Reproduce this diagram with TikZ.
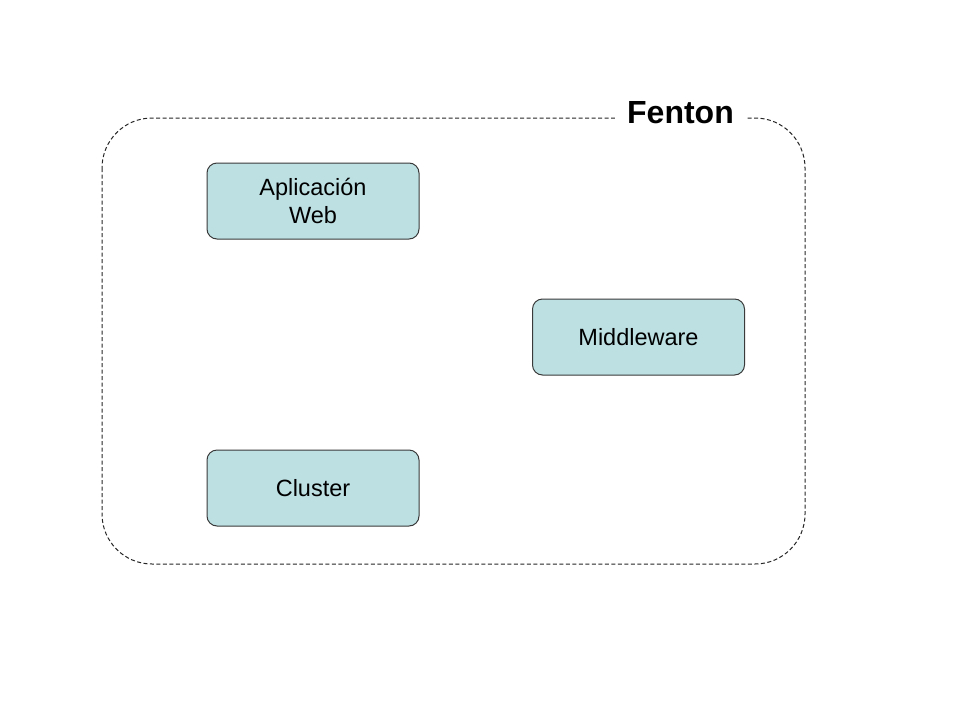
\documentclass[tikz,border=0pt]{standalone}
\usepackage{fontspec}
\setmainfont{Liberation Sans}
\usepackage{xcolor}
\usepackage{tikz}
\definecolor{boxfill}{HTML}{BDE0E3}
\definecolor{boxline}{HTML}{3A3A3A}
\tikzset{
  block/.style={
    draw = boxline,
    line width=1pt,
    fill = boxfill,
    rounded corners=10pt,
    minimum width=212pt,
    minimum height=76pt,
    align=center,
    font=\fontsize{23.5}{28}\selectfont
  },
  frame/.style={
   draw = black!85,
   line width=1pt,
   dash pattern=on 4pt off 2.5pt,
   rounded corners=50pt,
  },
  title/.style={
    fill = white,
    inner xsep = 12pt,
    inner ysep = 6pt,
    font=\bfseries\fontsize{32}{36}\selectfont
  }
}

\begin{document}
\begin{tikzpicture}[x=1pt,y=-1pt]
        \fill[white] (0,0) rectangle (960,720);
        \useasboundingbox (0,0) rectangle (960,720);
        \draw[frame] (102,118) rectangle (805,564);
        \node[title] (fenton) at (680.5,113) {Fenton};
        \node[block] (web) at (313,201) {Aplicación\\Web};
        \node[block] (middleware) at (638.5,337) {Middleware};
        \node[block] (cluster) at (313,488) {Cluster};
        % \draw (web)--(middleware);
    \end{tikzpicture}
\end{document}
